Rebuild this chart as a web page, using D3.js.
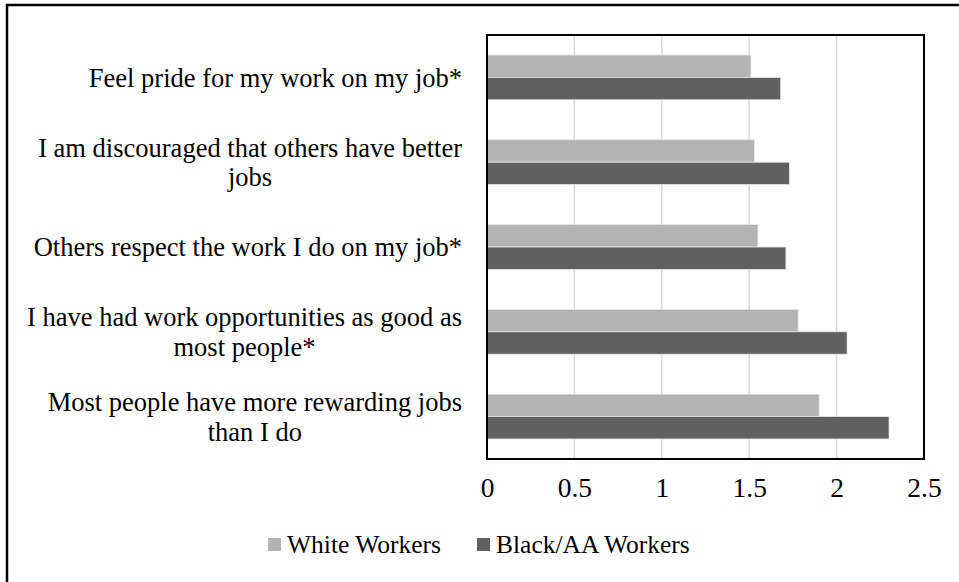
<!DOCTYPE html>
<html>
<head>
<meta charset="utf-8">
<script src="https://cdn.jsdelivr.net/npm/d3@7"></script>
<style>
  body { margin: 0; background: #fff; }
  text { font-family: "Liberation Serif", "Times New Roman", serif; fill: #000; }
</style>
</head>
<body>
<div id="chart"></div>
<script>
// chart data
var categories = [
  ["Feel pride for my work on my job*"],
  ["I am discouraged that others have better", "jobs"],
  ["Others respect the work I do on my job*"],
  ["I have had work opportunities as good as", "most people*"],
  ["Most people have more rewarding jobs", "than I do"]
];
var seriesNames = ["White Workers", "Black/AA Workers"];
var whiteValues = [1.51, 1.53, 1.55, 1.78, 1.90];
var blackValues = [1.68, 1.73, 1.71, 2.06, 2.30];
var xTicks = [0, 0.5, 1, 1.5, 2, 2.5];
var colors = ["#b3b3b3", "#606060"];

var W = 959, H = 582;
var plot = {left: 487, right: 924, top: 35, bottom: 459};

var svg = d3.select("#chart").append("svg")
  .attr("width", W)
  .attr("height", H);

// outer frame (runs off right / bottom edge like the original crop)
svg.append("rect")
  .attr("x", 7).attr("y", 5)
  .attr("width", W + 20).attr("height", H + 20)
  .attr("fill", "none")
  .attr("stroke", "#000")
  .attr("stroke-width", 2.5);

var x = d3.scaleLinear().domain([0, 2.5]).range([plot.left, plot.right]);

var y = d3.scaleBand()
  .domain(d3.range(categories.length))
  .range([plot.top, plot.bottom])
  .paddingInner(0.472)
  .paddingOuter(0.236);

var ySub = d3.scaleBand()
  .domain([0, 1])
  .range([0, y.bandwidth()]);

// gridlines
svg.append("g")
  .selectAll("line")
  .data(xTicks.slice(1, -1))
  .enter().append("line")
  .attr("x1", function(d) { return x(d); })
  .attr("x2", function(d) { return x(d); })
  .attr("y1", plot.top)
  .attr("y2", plot.bottom)
  .attr("stroke", "#d9d9d9")
  .attr("stroke-width", 1.5);

// bars
var rows = categories.map(function(c, i) {
  return {i: i, values: [whiteValues[i], blackValues[i]]};
});

var group = svg.append("g").selectAll("g")
  .data(rows)
  .enter().append("g")
  .attr("transform", function(d) { return "translate(0," + y(d.i) + ")"; });

group.selectAll("rect")
  .data(function(d) { return d.values.map(function(v, s) { return {v: v, s: s}; }); })
  .enter().append("rect")
  .attr("x", x(0))
  .attr("y", function(d) { return ySub(d.s); })
  .attr("width", function(d) { return x(d.v) - x(0); })
  .attr("height", ySub.bandwidth())
  .attr("fill", function(d) { return colors[d.s]; })
  .attr("stroke", "#e6e6e6")
  .attr("stroke-width", 0.8);

// plot frame
svg.append("rect")
  .attr("x", plot.left).attr("y", plot.top)
  .attr("width", plot.right - plot.left)
  .attr("height", plot.bottom - plot.top)
  .attr("fill", "none")
  .attr("stroke", "#000")
  .attr("stroke-width", 2);

// x axis labels
var xAxis = d3.axisBottom(x)
  .tickValues(xTicks)
  .tickSize(0)
  .tickPadding(18)
  .tickFormat(function(d) { return String(d); });

var axisG = svg.append("g")
  .attr("transform", "translate(0," + plot.bottom + ")")
  .call(xAxis);
axisG.select(".domain").remove();
axisG.selectAll("text")
  .style("font-family", "'Liberation Serif', 'Times New Roman', serif")
  .style("font-size", "27.5px")
  .attr("fill", "#000");

// category labels: block right aligned, lines centred within block
var labelRight = 462;
var lineH = 29.5;
var labelG = svg.append("g");
categories.forEach(function(lines, i) {
  var cy = y(i) + y.bandwidth() / 2;
  var t = labelG.append("text")
    .style("font-size", "26.5px")
    .attr("text-anchor", "middle");
  lines.forEach(function(line, k) {
    t.append("tspan")
      .attr("x", 0)
      .attr("y", cy + (k - (lines.length - 1) / 2) * lineH)
      .attr("dy", "0.35em")
      .text(line);
  });
  var widest = 0;
  t.selectAll("tspan").each(function() {
    widest = Math.max(widest, this.getComputedTextLength());
  });
  t.selectAll("tspan").attr("x", labelRight - widest / 2);
});

// legend
var legendItems = [{x: 268, name: seriesNames[0], c: colors[0]},
                   {x: 477, name: seriesNames[1], c: colors[1]}];
var legend = svg.append("g");
legendItems.forEach(function(d) {
  legend.append("rect")
    .attr("x", d.x).attr("y", 538)
    .attr("width", 13).attr("height", 13)
    .attr("fill", d.c);
  legend.append("text")
    .attr("x", d.x + 19)
    .attr("y", 553)
    .style("font-size", "25.5px")
    .text(d.name);
});
</script>
</body>
</html>
